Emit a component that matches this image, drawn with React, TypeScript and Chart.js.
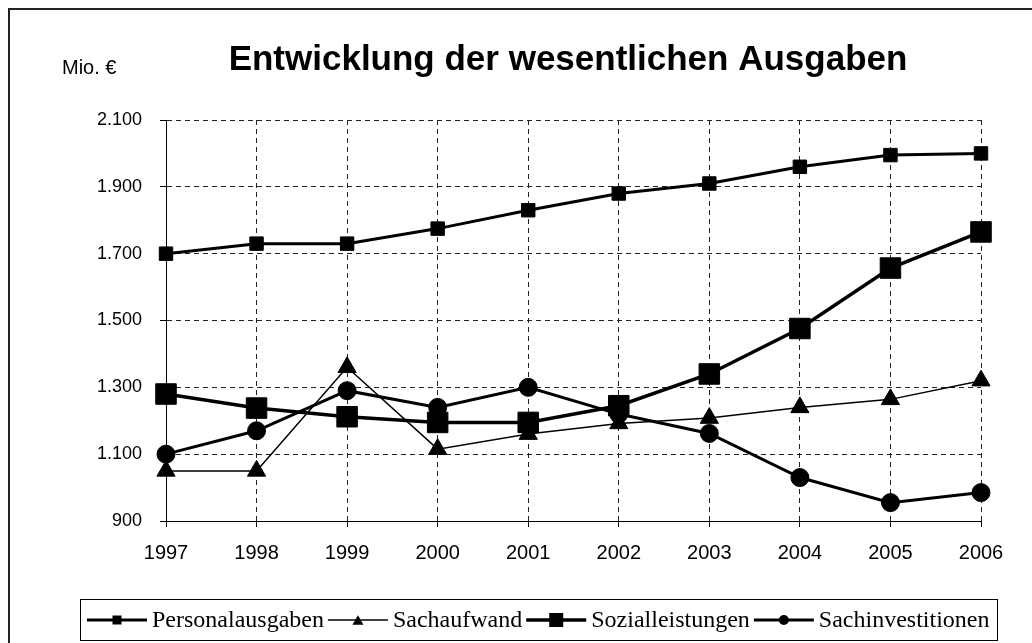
import React, { useEffect, useRef } from 'react';
import { Chart, registerables } from 'chart.js';

Chart.register(...registerables);

const years = ['1997', '1998', '1999', '2000', '2001', '2002', '2003', '2004', '2005', '2006'];
const personalausgaben = [1700, 1730, 1730, 1775, 1830, 1880, 1910, 1960, 1995, 2000];
const sachaufwand = [1050, 1050, 1360, 1115, 1160, 1192, 1208, 1240, 1264, 1320];
const sozialleistungen = [1280, 1238, 1212, 1195, 1195, 1245, 1340, 1476, 1657, 1765];
const sachinvestitionen = [1100, 1170, 1290, 1240, 1300, 1220, 1162, 1030, 955, 985];
const seriesNames = ['Personalausgaben', 'Sachaufwand', 'Sozialleistungen', 'Sachinvestitionen'];
const chartTitle = 'Entwicklung der wesentlichen Ausgaben';
const unitLabel = 'Mio. €';
const yMin = 900;
const yMax = 2100;
const yStep = 200;

const SANS = '"Liberation Sans", Arial, sans-serif';
const SERIF = '"Liberation Serif", "Times New Roman", serif';

function formatDE(v: number): string {
  const s = Math.round(v).toString();
  return s.replace(/\B(?=(\d{3})+(?!\d))/g, '.');
}

type Shape = 'rect' | 'triangle' | 'circle';

function drawMarker(ctx: CanvasRenderingContext2D, shape: Shape, cx: number, cy: number, size: number) {
  ctx.beginPath();
  if (shape === 'rect') {
    ctx.rect(cx - size / 2, cy - size / 2, size, size);
  } else if (shape === 'triangle') {
    const h = size * 0.866;
    ctx.moveTo(cx, cy - h / 2);
    ctx.lineTo(cx + size / 2, cy + h / 2);
    ctx.lineTo(cx - size / 2, cy + h / 2);
    ctx.closePath();
  } else {
    ctx.arc(cx, cy, size / 2, 0, Math.PI * 2);
  }
  ctx.fill();
}

const legendStyles: { shape: Shape; size: number; lineWidth: number }[] = [
  { shape: 'rect', size: 9, lineWidth: 3 },
  { shape: 'triangle', size: 11, lineWidth: 1.5 },
  { shape: 'rect', size: 14, lineWidth: 3.5 },
  { shape: 'circle', size: 10, lineWidth: 3 },
];

const decorPlugin = {
  id: 'decor',
  afterDraw(chart: any) {
    const ctx: CanvasRenderingContext2D = chart.ctx;
    ctx.save();
    ctx.fillStyle = '#000';
    ctx.font = 'bold 35px ' + SANS;
    ctx.textAlign = 'center';
    ctx.textBaseline = 'middle';
    ctx.fillText(chartTitle, 568, 60);

    ctx.font = '20px ' + SANS;
    ctx.textAlign = 'left';
    ctx.fillText(unitLabel, 62, 68);

    // legend box
    ctx.strokeStyle = '#000';
    ctx.lineWidth = 1;
    ctx.strokeRect(80.5, 599.5, 917, 41);

    ctx.font = '24px ' + SERIF;
    ctx.textBaseline = 'middle';
    let x = 87;
    const cy = 620;
    seriesNames.forEach((name, i) => {
      const st = legendStyles[i];
      ctx.strokeStyle = '#000';
      ctx.lineWidth = st.lineWidth;
      ctx.beginPath();
      ctx.moveTo(x, cy);
      ctx.lineTo(x + 60, cy);
      ctx.stroke();
      drawMarker(ctx, st.shape, x + 30, cy, st.size);
      x += 65;
      ctx.fillText(name, x, cy + 1);
      x += ctx.measureText(name).width + 4;
    });
    ctx.restore();
  },
};

export default function App() {
  const canvasRef = useRef<HTMLCanvasElement | null>(null);

  useEffect(() => {
    if (!canvasRef.current) return;
    const common = {
      borderColor: '#000',
      backgroundColor: '#000',
      pointBackgroundColor: '#000',
      pointBorderColor: '#000',
      pointBorderWidth: 1,
      tension: 0,
      fill: false,
      clip: false as any,
    };
    const gridCfg = {
      display: true,
      color: '#222',
      lineWidth: 1,
      borderDash: [5, 4],
      drawTicks: true,
      tickLength: 6,
      tickColor: '#000',
      tickBorderDash: [],
      drawOnChartArea: true,
    };
    const borderCfg = { display: true, color: '#000', width: 1, dash: [5, 4] };
    const chart = new Chart(canvasRef.current, {
      type: 'line',
      data: {
        labels: years,
        datasets: [
          { ...common, label: seriesNames[0], data: personalausgaben, borderWidth: 3, pointStyle: 'rect', pointRadius: 9.5 },
          { ...common, label: seriesNames[1], data: sachaufwand, borderWidth: 1.5, pointStyle: 'triangle', pointRadius: 10.5 },
          { ...common, label: seriesNames[2], data: sozialleistungen, borderWidth: 3.5, pointStyle: 'rect', pointRadius: 14.5 },
          { ...common, label: seriesNames[3], data: sachinvestitionen, borderWidth: 3, pointStyle: 'circle', pointRadius: 9 },
        ],
      },
      options: {
        responsive: false,
        animation: false,
        devicePixelRatio: 1,
        layout: { padding: { left: 40, right: 51, top: 120, bottom: 72 } },
        plugins: {
          legend: { display: false },
          tooltip: { enabled: false },
          title: { display: false },
        },
        scales: {
          x: {
            type: 'category',
            offset: false,
            grid: gridCfg as any,
            border: borderCfg as any,
            ticks: {
              color: '#000',
              font: { size: 20, family: SANS },
              padding: 14,
              maxRotation: 0,
              autoSkip: false,
            },
            afterFit: (s: any) => {
              s.height = 50;
            },
          },
          y: {
            min: yMin,
            max: yMax,
            grid: gridCfg as any,
            border: borderCfg as any,
            ticks: {
              stepSize: yStep,
              color: '#000',
              font: { size: 18, family: SANS },
              padding: 18,
              callback: (v: any) => formatDE(Number(v)),
            },
            afterFit: (s: any) => {
              s.width = 126;
            },
          },
        },
      },
      plugins: [decorPlugin],
    });
    return () => chart.destroy();
  }, []);

  return (
    <>
      <div
        style={{
          position: 'fixed',
          left: 8,
          top: 8,
          width: 1024,
          height: 635,
          borderTop: '2px solid #222',
          borderLeft: '2px solid #222',
          boxSizing: 'border-box',
        }}
      />
      <canvas
        ref={canvasRef}
        width={1032}
        height={643}
        style={{ position: 'fixed', left: 0, top: 0, width: 1032, height: 643 }}
      />
    </>
  );
}
